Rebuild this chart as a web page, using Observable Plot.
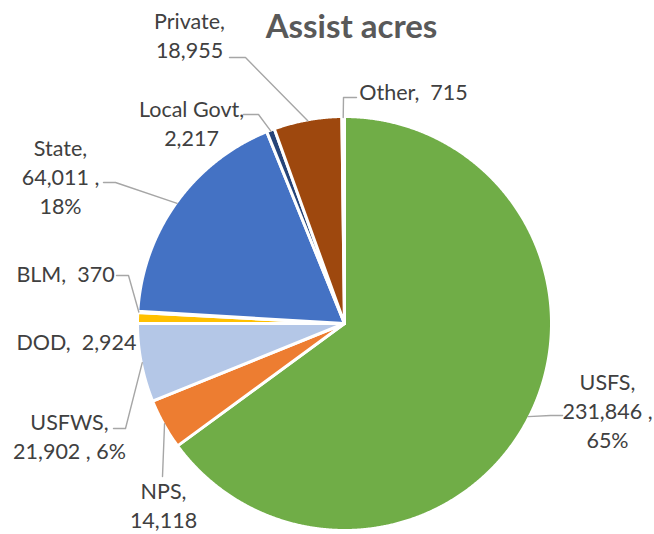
<!DOCTYPE html>
<html>
<head>
<meta charset="utf-8">
<script src="https://cdn.jsdelivr.net/npm/d3@7"></script>
<script src="https://cdn.jsdelivr.net/npm/@observablehq/plot@0.6"></script>
<style>
  html, body { margin: 0; padding: 0; background: #ffffff; }
</style>
</head>
<body>
<div id="chart"></div>
<script>
// ---- data ----
const title = "Assist acres";
const categories = ["USFS", "NPS", "USFWS", "DOD", "BLM", "State", "Local Govt", "Private", "Other"];
const acres = [231846, 14118, 21902, 2924, 370, 64011, 2217, 18955, 715];
const sliceColors = ["#70AD47", "#ED7D31", "#B4C7E7", "#FFC000", "#5B9BD5", "#4472C4", "#264478", "#9E480E", "#636363"];

// ---- layout (label placement, as in the reference) ----
const pie = {cx: 344, cy: 323, r: 207};
const labelLayout = {
  "USFS":       {x: 607, y: 409,   fmt: "{n},\n{v} ,\n{p}",  lead: [[562, 415], [550, 415]]},
  "NPS":        {x: 163, y: 504,   fmt: "{n},\n{v}",         lead: [[162, 476]]},
  "USFWS":      {x: 69,  y: 435,   fmt: "{n},\n{v} , {p}",   lead: [[113, 428], [125, 428]]},
  "DOD":        {x: 76,  y: 340,   fmt: "{n},  {v}",         lead: null},
  "BLM":        {x: 65,  y: 272,   fmt: "{n},  {v}",         lead: [[116, 275], [128, 275]]},
  "State":      {x: 60,  y: 175,   fmt: "{n},\n{v} ,\n{p}",  lead: [[103, 182], [115, 182]]},
  "Local Govt": {x: 191, y: 121.5, fmt: "{n},\n{v}",         lead: [[243, 114], [258, 114]]},
  "Private":    {x: 189, y: 34,    fmt: "{n},\n{v}",         lead: [[229, 57], [245, 57]]},
  "Other":      {x: 413, y: 90,    fmt: "{n},  {v}",         lead: [[356, 97], [343, 97]]}
};

// ---- build tables ----
const total = d3.sum(acres);
const arcs = d3.pie().sort(null).startAngle(0).endAngle(2 * Math.PI)(acres);
const fmtNum = d3.format(",");
const rows = categories.map((name, i) => ({
  name, value: acres[i],
  a0: arcs[i].startAngle, a1: arcs[i].endAngle,
  mid: (arcs[i].startAngle + arcs[i].endAngle) / 2
}));
const polar = (a, r) => [pie.cx + r * Math.sin(a), pie.cy - r * Math.cos(a)];

// slice polygons: centre + sampled arc
const slicePts = [];
for (const d of rows) {
  slicePts.push({name: d.name, x: pie.cx, y: pie.cy});
  const n = Math.max(2, Math.ceil((d.a1 - d.a0) / (Math.PI / 720)));
  for (let k = 0; k <= n; k++) {
    const [x, y] = polar(d.a0 + (d.a1 - d.a0) * k / n, pie.r);
    slicePts.push({name: d.name, x, y});
  }
}

// labels
const labels = rows.map(d => {
  const L = labelLayout[d.name];
  const text = L.fmt.replace("{n}", d.name)
    .replace("{v}", fmtNum(d.value))
    .replace("{p}", Math.round(d.value / total * 100) + "%");
  return {name: d.name, x: L.x, y: L.y, text};
});

// leader lines: from label to slice rim at mid-angle
const leaderPts = [];
for (const d of rows) {
  const L = labelLayout[d.name];
  if (!L.lead) continue;
  for (const [x, y] of L.lead) leaderPts.push({name: d.name, x, y});
  const [ax, ay] = polar(d.mid, pie.r - 1);
  leaderPts.push({name: d.name, x: ax, y: ay});
}

const chart = Plot.plot({
  width: 654,
  height: 534,
  margin: 0,
  x: {domain: [0, 654], range: [0, 654], axis: null},
  y: {domain: [0, 534], range: [0, 534], axis: null},
  color: {domain: categories, range: sliceColors},
  style: {fontFamily: "Lato, 'Open Sans', sans-serif", background: "#ffffff", overflow: "visible"},
  marks: [
    Plot.line(slicePts, {
      x: "x", y: "y", z: "name", fill: "name",
      stroke: "#ffffff", strokeWidth: 3, strokeLinejoin: "round",
      curve: "linear-closed"
    }),
    Plot.line(leaderPts, {
      x: "x", y: "y", z: "name",
      stroke: "#A6A6A6", strokeWidth: 1.4, curve: "linear"
    }),
    Plot.text(labels, {
      x: "x", y: "y", text: "text",
      fontSize: 21.5, lineHeight: 1.36, fill: "#404040",
      textAnchor: "middle", lineAnchor: "middle"
    }),
    Plot.text([title], {
      x: () => 351, y: () => 27,
      text: d => d, fontSize: 33, fontWeight: "bold", fill: "#595959",
      textAnchor: "middle", lineAnchor: "middle"
    })
  ]
});
document.getElementById("chart").appendChild(chart);
</script>
</body>
</html>
